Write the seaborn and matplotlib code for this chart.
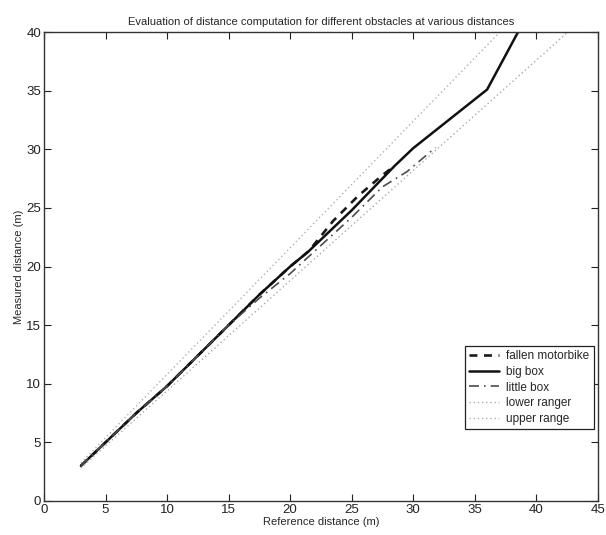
import matplotlib
matplotlib.use("Agg")
import matplotlib.pyplot as plt
import seaborn as sns

# reference distance (m) vs measured distance (m)
ref_big = [3, 5, 7.5, 10, 12.5, 15, 17.5, 20, 21.5, 25, 28.5, 30, 36, 40]
big_box = [3, 5, 7.5, 9.8, 12.4, 15, 17.6, 20, 21.3, 24.8, 28.6, 30.1, 35.1, 42.9]

ref_bike = [3, 5, 7.5, 10, 12.5, 15, 17.5, 20, 21.5, 23.5, 25.5, 27.5, 28.5]
motorbike = [3, 5, 7.5, 9.8, 12.4, 15, 17.6, 20, 21.3, 23.9, 26.0, 27.8, 28.6]

ref_little = [3, 5, 7.5, 10, 12.5, 15, 17.5, 20, 22.5, 25, 27.5, 29.5, 31.8]
little_box = [3, 5, 7.5, 9.8, 12.4, 15, 17.3, 19.4, 21.8, 24.2, 26.8, 28.1, 30.15]

ref_range = [3, 45]
lower_range = [2.82, 42.3]
upper_range = [3.24, 48.6]

sns.set_style("ticks")
plt.rcParams['font.family'] = ['Liberation Sans', 'DejaVu Sans']

fig = plt.figure(figsize=(6.06, 5.35), dpi=100)
ax = fig.add_axes([0.0726, 0.0636, 0.914, 0.8764])

sns.lineplot(x=ref_bike, y=motorbike, ax=ax, sort=False, estimator=None,
             color='#1a1a1a', linewidth=1.9, label='fallen motorbike')
ax.lines[-1].set_linestyle((0, (3, 2.5)))
sns.lineplot(x=ref_big, y=big_box, ax=ax, sort=False, estimator=None,
             color='#111111', linewidth=1.8, label='big box')
sns.lineplot(x=ref_little, y=little_box, ax=ax, sort=False, estimator=None,
             color='#4d4d4d', linewidth=1.2, label='little box')
ax.lines[-1].set_linestyle((0, (6, 3, 1, 3)))
sns.lineplot(x=ref_range, y=lower_range, ax=ax, sort=False, estimator=None,
             color='#aaaaaa', linewidth=1.0, label='lower ranger')
ax.lines[-1].set_linestyle((0, (1, 2)))
sns.lineplot(x=ref_range, y=upper_range, ax=ax, sort=False, estimator=None,
             color='#b0b0b0', linewidth=1.0, label='upper range')
ax.lines[-1].set_linestyle((0, (1, 2)))

ax.set_xlim(0, 45)
ax.set_ylim(0, 40)
ax.set_xticks(range(0, 46, 5))
ax.set_yticks(range(0, 41, 5))
ax.tick_params(direction='in', top=True, right=True, length=5, width=0.8,
               labelsize=9.5, colors='#222222', pad=2)
for s in ax.spines.values():
    s.set_visible(True)
    s.set_linewidth(1.0)
    s.set_color('#333333')

ax.set_title('Evaluation of distance computation for different obstacles at various distances',
             fontsize=8, pad=5)
ax.set_xlabel('Reference distance (m)', fontsize=8, labelpad=1)
ax.set_ylabel('Measured distance (m)', fontsize=8, labelpad=2)

leg = ax.legend(loc='lower right', bbox_to_anchor=(0.9925, 0.1540), fontsize=8.5,
                frameon=True, fancybox=False, framealpha=1, borderpad=0.35,
                labelspacing=0.3, handlelength=2.6, handletextpad=0.6,
                borderaxespad=0)
leg.get_frame().set_edgecolor('#222222')
leg.get_frame().set_linewidth(0.9)

fig.savefig('out.png', dpi=100)
